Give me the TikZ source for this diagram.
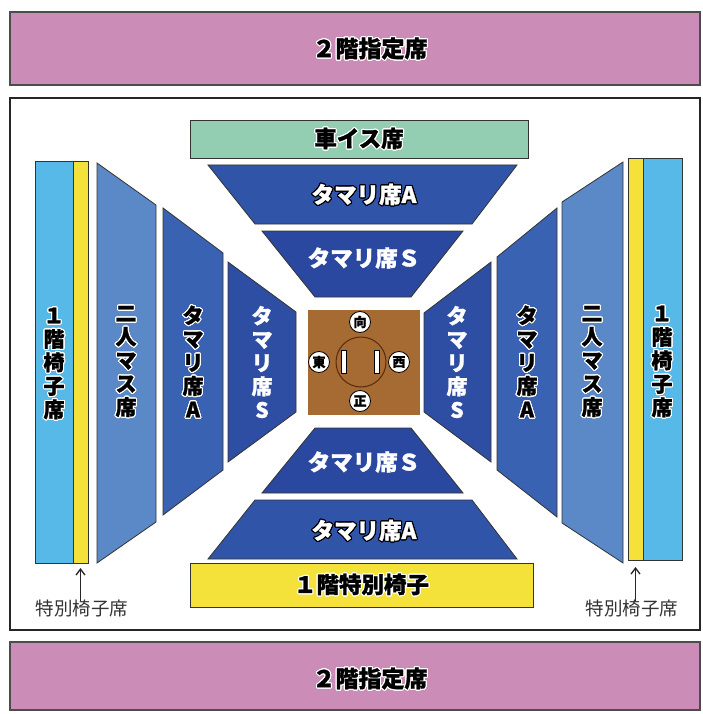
\documentclass[tikz,border=0pt]{standalone}
\usepackage{fontspec}
\usepackage{contour}
\usetikzlibrary{arrows.meta}
\newfontfamily\jp{Noto Sans CJK JP}[BoldFeatures={FakeBold=1.2}]
\contourlength{1.1pt}
\contournumber{24}
\newcommand\txtbw[1]{\contour{white}{#1}}
\newcommand\txtwb[1]{\contour{black}{#1}}
\definecolor{pinkband}{HTML}{CB8DB8}
\definecolor{mint}{HTML}{93CEB2}
\definecolor{tamA}{HTML}{3054A8}
\definecolor{tamS}{HTML}{2A48A0}
\definecolor{sideA}{HTML}{3A62B2}
\definecolor{sideS}{HTML}{2D4EA3}
\definecolor{futari}{HTML}{5B88C6}
\definecolor{lblue}{HTML}{56B9E8}
\definecolor{yel}{HTML}{F4E23A}
\definecolor{dohyo}{HTML}{A66A33}
\definecolor{ringc}{HTML}{5A2A0E}
\tikzset{
  seat/.style={draw=black!80, line width=0.8pt},
  band/.style={draw=black!70, line width=1.2pt, fill=pinkband},
  bigtxt/.style={inner sep=0pt, text=black, font={\jp\bfseries\fontsize{23pt}{24pt}\selectfont}},
  htxt/.style={inner sep=0pt, font={\jp\bfseries\fontsize{22.5pt}{24pt}\selectfont}},
  vtxt/.style={inner sep=0pt, align=center, font={\jp\bfseries\fontsize{21pt}{23.5pt}\selectfont}},
  dir/.style={circle, draw=black, line width=0.8pt, fill=white, inner sep=0pt, minimum size=21pt, font={\jp\bfseries\fontsize{13pt}{13pt}\selectfont}},
  note/.style={inner sep=0pt, text=black!80, font={\jp\fontsize{18.5pt}{19pt}\selectfont}},
  barnode/.style={draw=black, line width=0.6pt, fill=white, inner sep=0pt, minimum width=5pt, minimum height=23pt},
  rectnode/.style={seat, inner sep=0pt, outer sep=0pt, anchor=north west},
  arr/.style={-{Straight Barb[length=6pt,width=9pt,line width=1.3pt]}, line width=1.3pt, black!85}
}
\begin{document}
\begin{tikzpicture}[x=1pt,y=-1pt]
\useasboundingbox (0,0) rectangle (702,714);
\fill[white] (0,0) rectangle (702,714);
% bands
\draw[band] (10,12) rectangle (700,85);
\draw[band] (10,642) rectangle (700,710);
\node[bigtxt] (top2f) at (370,49) {\txtbw{２階指定席}};
\node[bigtxt] (bot2f) at (370,679) {\txtbw{２階指定席}};
% main frame
\draw[black!85, line width=2pt, fill=white] (10,98) rectangle (700,630);
% top
\node[rectnode, fill=mint, minimum width=338pt, minimum height=38pt] (kuruma) at (190,120) {};
\node[htxt, text=black] (kurumat) at (kuruma.center) {\txtbw{車イス席}};
\draw[seat, fill=tamA] (208,165) -- (517,165) -- (472,224) -- (255,224) -- cycle;
\node[htxt, text=white] (tAtop) at (364,195) {\txtwb{タマリ席A}};
\draw[seat, fill=tamS] (262,231) -- (463,231) -- (411,297) -- (315,297) -- cycle;
\node[htxt, text=white] (tStop) at (364,258) {タマリ席Ｓ};
% bottom
\draw[seat, fill=tamS] (315,428) -- (411,428) -- (463,493) -- (262,493) -- cycle;
\node[htxt, text=white] (tSbot) at (364,462) {タマリ席Ｓ};
\draw[seat, fill=tamA] (255,500) -- (472,500) -- (517,559) -- (208,559) -- cycle;
\node[htxt, text=white] (tAbot) at (364,531) {\txtwb{タマリ席A}};
\node[rectnode, fill=yel, minimum width=343pt, minimum height=44pt] (tokubetsu) at (190,563) {};
\node[htxt, text=black] (tokubetsut) at (tokubetsu.center) {\txtbw{１階特別椅子}};
% left side
\node[rectnode, fill=lblue, minimum width=38pt, minimum height=402pt] (isuL) at (35,161) {};
\node[rectnode, fill=yel, minimum width=15pt, minimum height=402pt] (yelL) at (73,161) {};
\draw[seat, fill=futari] (97,163) -- (156,205) -- (156,522) -- (97,563) -- cycle;
\draw[seat, fill=sideA] (163,208) -- (223,253) -- (223,470) -- (163,515) -- cycle;
\draw[seat, fill=sideS] (228,262) -- (296,312) -- (296,412) -- (228,462) -- cycle;
\node[vtxt, text=black] (isuLt) at (54,364) {\txtbw{１}\\\txtbw{階}\\\txtbw{椅}\\\txtbw{子}\\\txtbw{席}};
\node[vtxt, text=black] (futariLt) at (126,362) {\txtbw{二}\\\txtbw{人}\\\txtbw{マ}\\\txtbw{ス}\\\txtbw{席}};
\node[vtxt, text=black] (sideALt) at (193,362) {\txtbw{タ}\\\txtbw{マ}\\\txtbw{リ}\\\txtbw{席}\\\txtbw{A}};
\node[vtxt, text=white] (sideSLt) at (262,362) {タ\\マ\\リ\\席\\S};
% right side
\node[rectnode, fill=yel, minimum width=15pt, minimum height=402pt] (yelR) at (628,158) {};
\node[rectnode, fill=lblue, minimum width=39pt, minimum height=402pt] (isuR) at (643,158) {};
\draw[seat, fill=futari] (623,162) -- (562,202) -- (562,523) -- (623,563) -- cycle;
\draw[seat, fill=sideA] (557,208) -- (497,257) -- (497,470) -- (557,517) -- cycle;
\draw[seat, fill=sideS] (491,262) -- (424,313) -- (424,412) -- (491,462) -- cycle;
\node[vtxt, text=black] (isuRt) at (662,362) {\txtbw{１}\\\txtbw{階}\\\txtbw{椅}\\\txtbw{子}\\\txtbw{席}};
\node[vtxt, text=black] (futariRt) at (592,362) {\txtbw{二}\\\txtbw{人}\\\txtbw{マ}\\\txtbw{ス}\\\txtbw{席}};
\node[vtxt, text=black] (sideARt) at (527,362) {\txtbw{タ}\\\txtbw{マ}\\\txtbw{リ}\\\txtbw{席}\\\txtbw{A}};
\node[vtxt, text=white] (sideSRt) at (457,362) {タ\\マ\\リ\\席\\S};
% dohyo
\fill[dohyo] (308,310) rectangle (420,415);
\draw[ringc, line width=1pt] (361,362) circle (25);
\node[barnode] (barL) at (344,362) {};
\node[barnode] (barR) at (377,362) {};
\node[dir] (mukou) at (360,322) {向};
\node[dir] (higashi) at (319,362) {東};
\node[dir] (nishi) at (399,362) {西};
\node[dir] (shomen) at (360,401) {正};
% notes
\node[note] (noteL) at (82,608) {特別椅子席};
\node[note] (noteR) at (632,608) {特別椅子席};
\draw[arr] ([yshift=-2pt]yelL.south |- noteL.north) -- ([yshift=-5pt]yelL.south);
\draw[arr] ([yshift=-2pt]yelR.south |- noteR.north) -- ([yshift=-7pt]yelR.south);
\end{tikzpicture}
\end{document}
